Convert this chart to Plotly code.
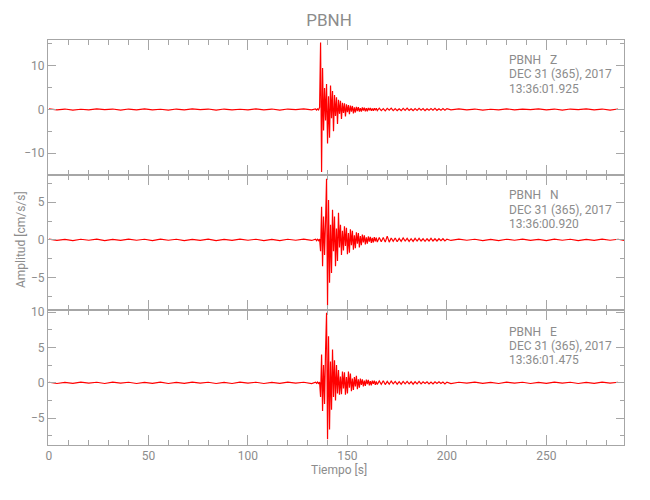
import numpy as np
import plotly.graph_objects as go
from plotly.subplots import make_subplots

# ---------------- data (hand-read envelope values, cm/s/s) ----------------
z_pre = [0.15,-0.1,0.1,-0.15,0.05,-0.1,0.15,-0.05,0.1,-0.15,0.1,-0.1,0.15,-0.1,0.05,-0.15,0.1,
         -0.1,0.15,-0.05,0.1,-0.15,0.1,-0.1,0.05,-0.1,0.15,-0.1,0.1,-0.15,0.1,-0.05,0.15,-0.1]
z_evt = [0.1,-0.15,0.12,-0.1,0.5,15.3,-14.3,9.5,-4.8,4.9,
         -2.5,5.8,-7.8,3.0,-6.5,5.5,-2.0,4.2,-5.0,3.3,
         -1.5,2.8,-3.3,2.2,-1.0,2.0,-2.2,1.5,-0.8,1.4,
         -1.6,1.2,-0.6,1.0,-1.1,0.9,-0.5,0.8,-0.9,0.5,
         -0.7,0.6,-0.4,0.55,-0.5,0.3,-0.5,0.45,-0.25,0.4,
         -0.45,0.3,-0.4,0.35,-0.2,0.35,-0.3,0.25,-0.3,0.3,
         -0.2,0.3,-0.25]
z_coda = [0.3,-0.25,0.2,-0.3,0.25,-0.15,0.3,-0.25,0.2,-0.25,0.15,-0.25,0.25,-0.2,0.3,-0.2,0.15,
          -0.25,0.2,-0.2,0.25,-0.15,0.2,-0.25,0.15,-0.2,0.2,-0.15,0.25,-0.2,0.15,-0.2,0.2,-0.15,0.2]
z_post = [-0.1,0.15,-0.1,0.1,-0.15,0.05,-0.1,0.15,-0.1,0.1,-0.05,0.15,-0.1,0.1,-0.15,0.1,-0.05,
          0.15,-0.1,0.1,-0.15,0.1]

n_pre = [0.1,-0.08,0.05,-0.1,0.08,-0.05,0.1,-0.1,0.05,-0.08,0.1,-0.05,0.08,-0.1,0.1,-0.05,0.08,
         -0.1,0.05,-0.08,0.1,-0.1,0.05,-0.08,0.1,-0.05,0.08,-0.1,0.05,-0.1,0.08,-0.05,0.1,-0.08]
n_evt = [0.1,-0.1,0.08,-0.1,0.1,-1.5,4.4,-3.5,3.1,-2.0,
         2.5,8.1,-8.7,5.3,-5.7,2.0,-4.4,4.0,-1.5,3.1,
         -3.5,1.5,-2.8,3.6,-1.0,2.0,-2.0,1.2,-1.4,1.8,
         -0.8,1.6,-1.9,0.9,-1.7,1.4,-0.7,1.2,-1.3,0.6,
         -1.1,1.0,-0.5,0.9,-1.0,0.5,-0.7,0.7,-0.35,0.6,
         -0.6,0.35,-0.5,0.45,-0.25,0.4,-0.4,0.25,-0.35,0.35,
         -0.2,0.3,-0.3]
n_coda = [0.3,-0.25,0.3,-0.3,0.5,-0.3,0.25,-0.2,0.25,-0.25,0.2,-0.2,0.25,-0.15,0.2,-0.2,0.15,
          -0.2,0.2,-0.15,0.2,-0.15,0.15,-0.2,0.15,-0.15,0.2,-0.15,0.15,-0.15,0.15,-0.1,0.15,-0.15,0.1]
n_post = [-0.08,0.1,-0.05,0.08,-0.1,0.05,-0.1,0.08,-0.05,0.1,-0.08,0.05,-0.1,0.1,-0.05,0.08,
          -0.1,0.05,-0.08,0.1,-0.05,0.08,-0.1]

e_pre = [0.08,-0.1,0.05,-0.08,0.1,-0.05,0.08,-0.1,0.1,-0.05,0.08,-0.1,0.05,-0.08,0.1,-0.1,0.05,
         -0.08,0.1,-0.05,0.08,-0.1,0.05,-0.1,0.1,-0.05,0.08,-0.1,0.05,-0.08,0.1,-0.05,0.08,-0.1]
e_evt = [0.1,-0.08,0.1,-0.1,0.1,-2.0,4.0,-4.0,2.5,-3.0,
         4.5,9.9,-8.0,6.6,-6.6,3.0,-3.8,4.7,-2.0,3.2,
         -2.5,2.5,-1.5,1.8,-1.7,0.9,-1.6,1.6,-0.8,1.5,
         -1.7,0.8,-1.5,1.6,-0.7,1.3,-1.2,0.6,-1.0,0.8,
         -0.5,1.0,-0.9,0.5,-0.7,0.6,-0.3,0.5,-0.5,0.3,
         -0.45,0.45,-0.2,0.4,-0.35,0.25,-0.35,0.3,-0.15,0.3,
         -0.3,0.2,-0.25]
e_coda = [0.25,-0.2,0.3,-0.25,0.2,-0.2,0.25,-0.15,0.2,-0.2,0.15,-0.2,0.2,-0.15,0.2,-0.15,0.15,
          -0.2,0.15,-0.15,0.2,-0.15,0.15,-0.1,0.15,-0.15,0.1,-0.15,0.15,-0.1,0.15,-0.1,0.1,-0.15,0.1]
e_post = [-0.1,0.08,-0.05,0.1,-0.08,0.05,-0.1,0.1,-0.05,0.08,-0.1,0.05,-0.08,0.1,-0.05,0.08,
          -0.1,0.05,-0.08,0.1,-0.05,0.08]

station = "PBNH"
components = ["Z", "N", "E"]
date_label = "DEC 31 (365), 2017"
start_times = ["13:36:01.925", "13:36:00.920", "13:36:01.475"]
y_ranges = [[-15.0, 15.9], [-9.3, 8.6], [-8.8, 10.3]]
y_dticks = [10, 5, 5]
y_minor = [5, 2.5, 2.5]
x_range = [-0.5, 289]

def build(pre, evt, coda, post):
    segs = [(0.0, 4.0, pre), (134.0, 0.5, evt), (166.0, 1.0, coda), (202.0, 4.0, post)]
    t, v = [], []
    for start, step, vals in segs:
        t.extend(start + step * np.arange(len(vals)))
        v.extend(vals)
    return np.array(t), np.array(v)

traces = [build(z_pre, z_evt, z_coda, z_post),
          build(n_pre, n_evt, n_coda, n_post),
          build(e_pre, e_evt, e_coda, e_post)]

# ---------------- figure ----------------
FONT = "Roboto, Liberation Sans, sans-serif"
GRAY = "#8c8c8c"
AXC = "#a6a6a6"

# page has an 8px body margin: figure is 642x492 placed at (8, 8)
W, H = 642, 492
ML, MT = 40, 32
PW, PH = 576, 405
MR, MB = W - ML - PW, H - MT - PH

fig = make_subplots(rows=3, cols=1, shared_xaxes=True, vertical_spacing=0)
for i, (t, v) in enumerate(traces):
    fig.add_trace(go.Scatter(x=t, y=v, mode="lines",
                             line=dict(color="#ff0000", width=1.2),
                             showlegend=False, hoverinfo="skip"), row=i + 1, col=1)

for i in range(3):
    fig.update_yaxes(row=i + 1, col=1, range=y_ranges[i], dtick=y_dticks[i], tick0=0,
                     ticks="inside", ticklen=8, tickcolor=AXC, showline=True, linecolor=AXC,
                     linewidth=1, mirror="ticks", showgrid=False, zeroline=False,
                     minor=dict(ticks="inside", dtick=y_minor[i], tick0=0, ticklen=4,
                                tickcolor=AXC, showgrid=False),
                     tickfont=dict(family=FONT, size=12, color=GRAY))
    fig.update_xaxes(row=i + 1, col=1, range=x_range, dtick=50, tick0=0,
                     ticks="inside", ticklen=10, tickcolor=AXC, showline=True, linecolor=AXC,
                     linewidth=1, mirror="ticks", showgrid=False, zeroline=False,
                     showticklabels=(i == 2),
                     minor=dict(ticks="inside", dtick=10, tick0=0, ticklen=5,
                                tickcolor=AXC, showgrid=False),
                     tickfont=dict(family=FONT, size=12, color=GRAY))

def px(xp):  # page x pixel -> paper x
    return (xp - 8 - ML) / PW

def py(yp):  # page y pixel -> paper y
    return 1 - (yp - 8 - MT) / PH

annotations = []
text_rows = [[60, 74.5, 89], [195, 209.5, 224], [331.5, 346, 360]]
for i in range(3):
    lines = [station + "\u00a0\u00a0\u00a0" + components[i], date_label, start_times[i]]
    for j, txt in enumerate(lines):
        annotations.append(dict(text=txt, xref="paper", yref="paper",
                                x=px(507), y=py(text_rows[i][j]),
                                xanchor="left", yanchor="middle", showarrow=False,
                                font=dict(family=FONT, size=12, color=GRAY)))

annotations.append(dict(text="Amplitud [cm/s/s]", xref="paper", yref="paper",
                        x=px(21), y=py(240), textangle=-90,
                        xanchor="center", yanchor="middle", showarrow=False,
                        font=dict(family=FONT, size=12, color=GRAY)))
annotations.append(dict(text="Tiempo [s]", xref="paper", yref="paper",
                        x=px(339), y=py(470),
                        xanchor="center", yanchor="middle", showarrow=False,
                        font=dict(family=FONT, size=12, color=GRAY)))

fig.update_layout(
    width=W, height=H,
    margin=dict(l=ML, r=MR, t=MT, b=MB, autoexpand=False),
    paper_bgcolor="white", plot_bgcolor="white",
    title=dict(text=station, x=0.5, xref="container", y=1 - 12 / H, yref="container",
               xanchor="center", yanchor="middle",
               font=dict(family=FONT, size=17, color=GRAY)),
    annotations=annotations,
)

fig.write_html("out.html")
